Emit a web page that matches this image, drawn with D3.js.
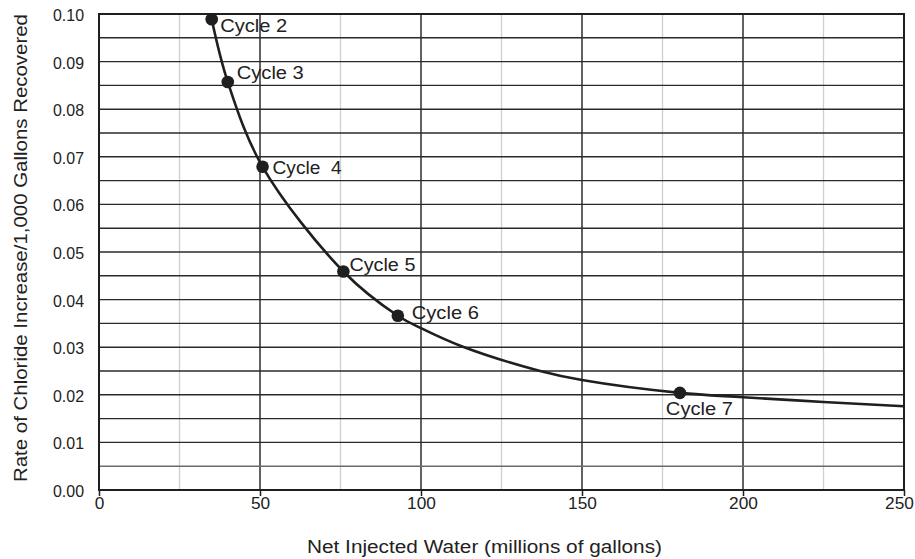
<!DOCTYPE html>
<html>
<head>
<meta charset="utf-8">
<script src="https://cdn.jsdelivr.net/npm/d3@7"></script>
<style>
  html, body { margin: 0; padding: 0; background: #fff; }
  svg { display: block; font-family: "Liberation Sans", Arial, Helvetica, sans-serif; }
</style>
</head>
<body>
<svg id="chart" width="915" height="559"></svg>
<script>
// Cycle measurements: net injected water (Mgal) vs. chloride rise rate
const cycleLabels = ["Cycle 2", "Cycle 3", "Cycle  4", "Cycle 5", "Cycle 6", "Cycle 7"];
const cycleX = [35, 40, 50.8, 75.9, 92.8, 180.4];
const cycleY = [0.0989, 0.0857, 0.0679, 0.0459, 0.0366, 0.0204];

// Fitted trend curve through the cycles, extended to 250 Mgal
const curveX = [35, 40, 50.8, 75.9, 92.8, 100, 112.6, 137, 150, 180.4, 200, 225, 250];
const curveY = [0.0989, 0.0857, 0.0679, 0.0459, 0.0366, 0.0340, 0.0302, 0.0250, 0.0231, 0.0204, 0.0195, 0.0185, 0.0176];

const xTicks = [0, 50, 100, 150, 200, 250];
const yTicks = [0, 0.01, 0.02, 0.03, 0.04, 0.05, 0.06, 0.07, 0.08, 0.09, 0.10];

const svg = d3.select("#chart");
const plotL = 99, plotR = 904, plotT = 14, plotB = 490;
const ink = "#1f1f1f";

const x = d3.scaleLinear().domain([0, 250]).range([plotL, plotR]);
const y = d3.scaleLinear().domain([0, 0.10]).range([plotB, plotT]);

const grid = svg.append("g");

// minor vertical lines every 25
grid.selectAll("line.vminor")
  .data(d3.range(25, 250, 50))
  .join("line")
  .attr("class", "vminor")
  .attr("x1", d => x(d)).attr("x2", d => x(d))
  .attr("y1", plotT).attr("y2", plotB)
  .attr("stroke", "#cfcfcf").attr("stroke-width", 1.3);

// major vertical lines every 50
grid.selectAll("line.vmajor")
  .data(xTicks.slice(1, -1))
  .join("line")
  .attr("class", "vmajor")
  .attr("x1", d => x(d)).attr("x2", d => x(d))
  .attr("y1", plotT).attr("y2", plotB)
  .attr("stroke", ink).attr("stroke-width", 1.4);

// horizontal lines every 0.005
grid.selectAll("line.h")
  .data(d3.range(1, 20).map(i => i * 0.005))
  .join("line")
  .attr("class", "h")
  .attr("x1", plotL).attr("x2", plotR)
  .attr("y1", d => y(d)).attr("y2", d => y(d))
  .attr("stroke", (d, i) => i === 0 ? "#6a6a6a" : "#2a2a2a")
  .attr("stroke-width", 1.4);

// plot frame
svg.append("rect")
  .attr("x", plotL).attr("y", plotT)
  .attr("width", plotR - plotL).attr("height", plotB - plotT)
  .attr("fill", "none").attr("stroke", ink).attr("stroke-width", 2);

// axes
const xAxis = d3.axisBottom(x).tickValues(xTicks).tickSize(6).tickPadding(2).tickFormat(d3.format("d"));
const gx = svg.append("g").attr("transform", `translate(0,${plotB})`).call(xAxis);
gx.select(".domain").remove();
gx.selectAll(".tick line").attr("stroke", ink).attr("stroke-width", 1.5);
gx.selectAll(".tick text")
  .attr("font-size", 16).attr("fill", "#222")
  .attr("font-family", "Liberation Sans, Arial, sans-serif")
  .attr("textLength", d => String(d).length * 9.6)
  .attr("lengthAdjust", "spacingAndGlyphs")
  .attr("dx", d => d === 250 ? -5 : 0);

const yAxis = d3.axisLeft(y).tickValues(yTicks).tickSize(0).tickPadding(15).tickFormat(d3.format(".2f"));
const gy = svg.append("g").attr("transform", `translate(${plotL},0)`).call(yAxis);
gy.select(".domain").remove();
gy.selectAll(".tick text")
  .attr("font-size", 16).attr("fill", "#222")
  .attr("font-family", "Liberation Sans, Arial, sans-serif")
  .attr("textLength", 31).attr("lengthAdjust", "spacingAndGlyphs")
  .attr("dy", "0.4em");

// axis titles
svg.append("text")
  .attr("x", 307).attr("y", 553)
  .attr("font-size", 17.5).attr("fill", "#222")
  .attr("textLength", 355).attr("lengthAdjust", "spacingAndGlyphs")
  .text("Net Injected Water (millions of gallons)");

svg.append("text")
  .attr("transform", `translate(26.5,482) rotate(-90)`)
  .attr("font-size", 17.5).attr("fill", "#222")
  .attr("textLength", 468).attr("lengthAdjust", "spacingAndGlyphs")
  .text("Rate of Chloride Increase/1,000 Gallons Recovered");

// trend curve
const curvePts = curveX.map((v, i) => [v, curveY[i]]);
svg.append("path")
  .datum(curvePts)
  .attr("d", d3.line().x(d => x(d[0])).y(d => y(d[1])).curve(d3.curveCatmullRom.alpha(0.5)))
  .attr("fill", "none").attr("stroke", ink).attr("stroke-width", 2.6);

// cycle points and labels
const cycles = cycleLabels.map((l, i) => ({ label: l, x: cycleX[i], y: cycleY[i] }));
svg.selectAll("circle.pt")
  .data(cycles)
  .join("circle")
  .attr("class", "pt")
  .attr("cx", d => x(d.x)).attr("cy", d => y(d.y))
  .attr("r", 6.3).attr("fill", ink);

// label offsets (px) from each point to the label's left baseline
const labelOffsets = [[8.5, 12.7], [9, -3], [10, 7.7], [6, -1], [14, 3.3], [-14, 22]];
const labelWidths = [67, 67, 69, 66, 67, 67];
svg.selectAll("text.lbl")
  .data(cycles)
  .join("text")
  .attr("class", "lbl")
  .attr("x", (d, i) => x(d.x) + labelOffsets[i][0])
  .attr("y", (d, i) => y(d.y) + labelOffsets[i][1])
  .attr("font-size", 17.5).attr("fill", "#222")
  .attr("textLength", (d, i) => labelWidths[i]).attr("lengthAdjust", "spacingAndGlyphs")
  .style("white-space", "pre")
  .text(d => d.label);
</script>
</body>
</html>
